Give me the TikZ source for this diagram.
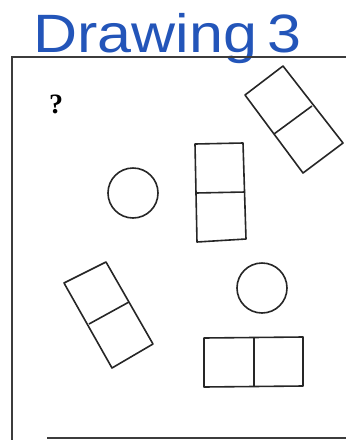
\documentclass[tikz,border=0pt]{standalone}
\usepackage{fontspec}
\setmainfont{Liberation Serif}
\newfontfamily\handfont{Liberation Sans}
\definecolor{penblue}{RGB}{35,85,185}
\definecolor{framegray}{RGB}{60,60,60}
\tikzset{
  outline/.style={draw=black!85, line width=1.6pt, line join=round},
  frameline/.style={draw=framegray, line width=2pt},
}
\begin{document}
\begin{tikzpicture}[x=1pt,y=-1pt]
\useasboundingbox (0,0) rectangle (346,440);
% title
\node[anchor=base west, inner sep=0pt, text=penblue, xscale=1.13, transform shape, font=\handfont\fontsize{54}{54}\selectfont] (title) at (33,52) {Drawing\,3};
% frame
\draw[frameline] (346,57) -- (12,57) -- (12,440);
\draw[frameline] (47,438) -- (346,438);
% question mark
\node[anchor=center, inner sep=0pt, font=\bfseries\fontsize{28}{28}\selectfont] (q) at (56,104) {?};
% top-right tilted rectangle
\draw[outline] (283,66) -- (245,95) -- (303,173) -- (343,143) -- cycle;
\draw[outline] (312,106) -- (274,134);
% middle vertical rectangle
\draw[outline] (195,144) -- (243,143) -- (246,239) -- (197,242) -- cycle;
\draw[outline] (196,193) -- (245,192);
% circles
\draw[outline] (133,193) circle (25);
\draw[outline] (262,288) circle (25);
% bottom-left tilted rectangle
\draw[outline] (106,262) -- (64,283) -- (112,368) -- (153,344) -- cycle;
\draw[outline] (89,324) -- (129,302);
% bottom-right horizontal rectangle
\draw[outline] (204,338) -- (303,337) -- (303,386) -- (204,387) -- cycle;
\draw[outline] (254,338) -- (254,386);
\end{tikzpicture}
\end{document}
